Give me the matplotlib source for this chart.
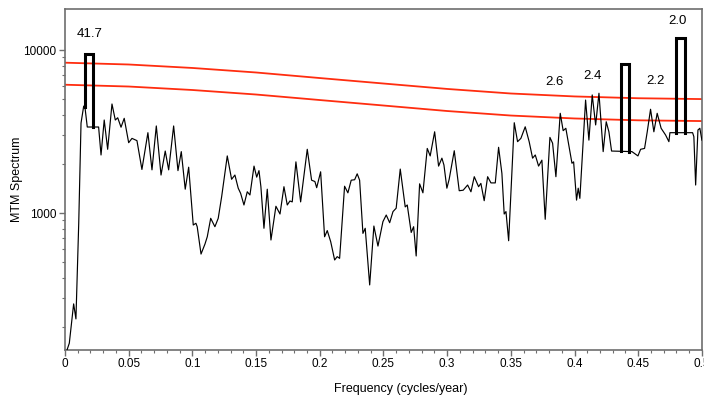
import matplotlib
matplotlib.use("Agg")
import matplotlib.pyplot as plt
import numpy as np
from matplotlib.ticker import FixedLocator, NullFormatter

plt.rcParams["font.family"] = ["Liberation Sans", "DejaVu Sans"]

# --- MTM spectrum (frequency in cycles/year) ---
freq = [
    0.001, 0.0034, 0.0068, 0.0086, 0.0108, 0.0126, 0.0147, 0.0157, 0.0175, 0.0264,
    0.0283, 0.0308, 0.0335, 0.0369, 0.0395, 0.0414, 0.044, 0.0465, 0.05, 0.0526,
    0.0565, 0.0604, 0.0651, 0.0683, 0.0717, 0.0754, 0.0787, 0.0814, 0.0853, 0.0887,
    0.0913, 0.0944, 0.0971, 0.1007, 0.1028, 0.1038, 0.1068, 0.1099, 0.1117, 0.1144,
    0.1177, 0.1203, 0.123, 0.1274, 0.1308, 0.1334, 0.136, 0.1379, 0.1405, 0.1431,
    0.1452, 0.1484, 0.1505, 0.1523, 0.1538, 0.1562, 0.1588, 0.1617, 0.1656, 0.1688,
    0.1719, 0.1745, 0.1766, 0.1784, 0.1813, 0.185, 0.1902, 0.1936, 0.1962, 0.1976,
    0.2007, 0.2038, 0.2059, 0.2086, 0.2117, 0.2137, 0.2156, 0.2195, 0.2221, 0.2247,
    0.2274, 0.2294, 0.2313, 0.2339, 0.2357, 0.2392, 0.2425, 0.2457, 0.2496, 0.2522,
    0.2549, 0.2575, 0.26, 0.2632, 0.2671, 0.2687, 0.2718, 0.2737, 0.2757, 0.2784,
    0.281, 0.2844, 0.2867, 0.2902, 0.2933, 0.2959, 0.2975, 0.2998, 0.3016, 0.3056,
    0.3095, 0.3126, 0.3161, 0.3187, 0.3213, 0.3247, 0.3265, 0.3291, 0.3318, 0.3344,
    0.3378, 0.3404, 0.343, 0.3448, 0.3462, 0.3483, 0.3527, 0.3553, 0.3579, 0.3613,
    0.3644, 0.3671, 0.3692, 0.3718, 0.3744, 0.377, 0.3807, 0.3828, 0.3854, 0.3888,
    0.3911, 0.3932, 0.3958, 0.398, 0.3993, 0.4016, 0.4029, 0.4042, 0.4087, 0.4113,
    0.4139, 0.4166, 0.4192, 0.4225, 0.4249, 0.427, 0.4291, 0.4451, 0.4498, 0.4519,
    0.455, 0.4571, 0.4597, 0.4623, 0.4649, 0.468, 0.4715, 0.4741, 0.4749, 0.4927,
    0.4937, 0.4951, 0.4969, 0.4984, 0.5,
]
spectrum = [
    140, 159, 277, 224, 868, 3565, 4530, 4450, 3370, 3370,
    2270, 3720, 2460, 4665, 3720, 3840, 3360, 3810, 2700, 2870,
    2780, 1850, 3110, 1840, 3420, 1710, 2400, 1840, 3420, 1820,
    2380, 1400, 1910, 844, 865, 824, 560, 645, 715, 928,
    824, 928, 1260, 2240, 1610, 1710, 1420, 1320, 1120, 1350,
    1290, 1940, 1660, 1820, 1450, 806, 1400, 683, 1100, 986,
    1450, 1120, 1185, 1170, 2060, 1170, 2460, 1590, 1560, 1430,
    1790, 715, 780, 667, 515, 540, 527, 1460, 1330, 1590,
    1600, 1740, 1590, 750, 806, 362, 832, 627, 885, 972,
    872, 1020, 1070, 1860, 1090, 1120, 760, 824, 545, 1510,
    1330, 2490, 2240, 3150, 1940, 2170, 1970, 1420, 1610, 2410,
    1370, 1380, 1485, 1350, 1670, 1450, 1520, 1190, 1670, 1530,
    1530, 2530, 1750, 986, 1020, 676, 3580, 2740, 2870, 3380,
    2740, 2170, 2270, 1940, 2110, 915, 2910, 2680, 1670, 4090,
    3200, 3310, 2530, 2020, 2060, 1200, 1420, 1230, 4930, 2800,
    5300, 3470, 5430, 2380, 3630, 3150, 2400, 2380, 2240, 2460,
    2490, 3150, 4330, 3150, 4090, 3310, 3010, 2740, 3110, 3110,
    2940, 1485, 3230, 3310, 2800,
]

# confidence levels (red curves)
conf_freq = [0.0, 0.05, 0.1, 0.15, 0.2, 0.25, 0.3, 0.35, 0.4, 0.45, 0.5]
conf_high = [8360, 8150, 7760, 7280, 6730, 6230, 5770, 5410, 5190, 5060, 5000]
conf_low = [6124, 5971, 5684, 5333, 4933, 4566, 4224, 3963, 3802, 3704, 3665]

# harmonic line boxes: left/right frequency, top value, base value
line_left = [0.0157, 0.4362, 0.4800]
line_right = [0.0218, 0.4425, 0.4864]
line_top = [9450, 8200, 11850]
line_base = [3370, 2380, 3110]

# period labels (years)
period_text = ["41.7", "2.6", "2.4", "2.2", "2.0"]
period_f = [0.0192, 0.3841, 0.4144, 0.4639, 0.4812]
period_v = [12620, 6390, 6900, 6430, 15070]

fig = plt.figure(figsize=(7.04, 3.98), dpi=100)
ax = fig.add_axes([0.0923, 0.1206, 0.9047, 0.8568])

ax.plot(conf_freq, conf_high, color="#ff2d0f", lw=1.3, zorder=2)
ax.plot(conf_freq, conf_low, color="#ff2d0f", lw=1.3, zorder=2)
ax.plot(freq, spectrum, color="black", lw=0.85, zorder=3)

for fl, fr, top, base in zip(line_left, line_right, line_top, line_base):
    left_bottom = max(base, np.interp(fl, freq, spectrum))
    ax.plot([fl, fl, fr, fr], [left_bottom, top, top, base],
            color="black", lw=2.2, solid_joinstyle="miter", zorder=4)

for txt, f, v in zip(period_text, period_f, period_v):
    ax.text(f, v, txt, ha="center", va="center", fontsize=9.5)

ax.set_yscale("log")
ax.set_xlim(0, 0.5)
ax.set_ylim(144.4, 17850)

xt = [0, 0.05, 0.1, 0.15, 0.2, 0.25, 0.3, 0.35, 0.4, 0.45, 0.5]
ax.set_xticks(xt)
ax.set_xticklabels(["0", "0.05", "0.1", "0.15", "0.2", "0.25", "0.3",
                    "0.35", "0.4", "0.45", "0.5"])
ax.xaxis.set_minor_locator(FixedLocator(np.arange(0, 0.501, 0.01)))
ax.yaxis.set_major_locator(FixedLocator([1000, 10000]))
ax.set_yticklabels(["1000", "10000"])
ax.yaxis.set_minor_locator(FixedLocator([200, 300, 400, 500, 600, 700, 800, 900,
                                         2000, 3000, 4000, 5000, 6000, 7000,
                                         8000, 9000]))
ax.yaxis.set_minor_formatter(NullFormatter())

spine_col = "#6e6e6e"
for s in ax.spines.values():
    s.set_color(spine_col)
    s.set_linewidth(1.2)
ax.tick_params(which="major", direction="out", length=4, width=1,
               color=spine_col, labelsize=8.5, pad=2)
ax.tick_params(which="minor", direction="out", length=2.5, width=0.8,
               color=spine_col)

ax.set_xlabel("Frequency (cycles/year)", fontsize=9)
ax.xaxis.set_label_coords(0.5275, -0.0965)
ax.set_ylabel("MTM Spectrum", fontsize=9)
ax.yaxis.set_label_coords(-0.066, 0.5)

fig.savefig("out.png", dpi=100)
